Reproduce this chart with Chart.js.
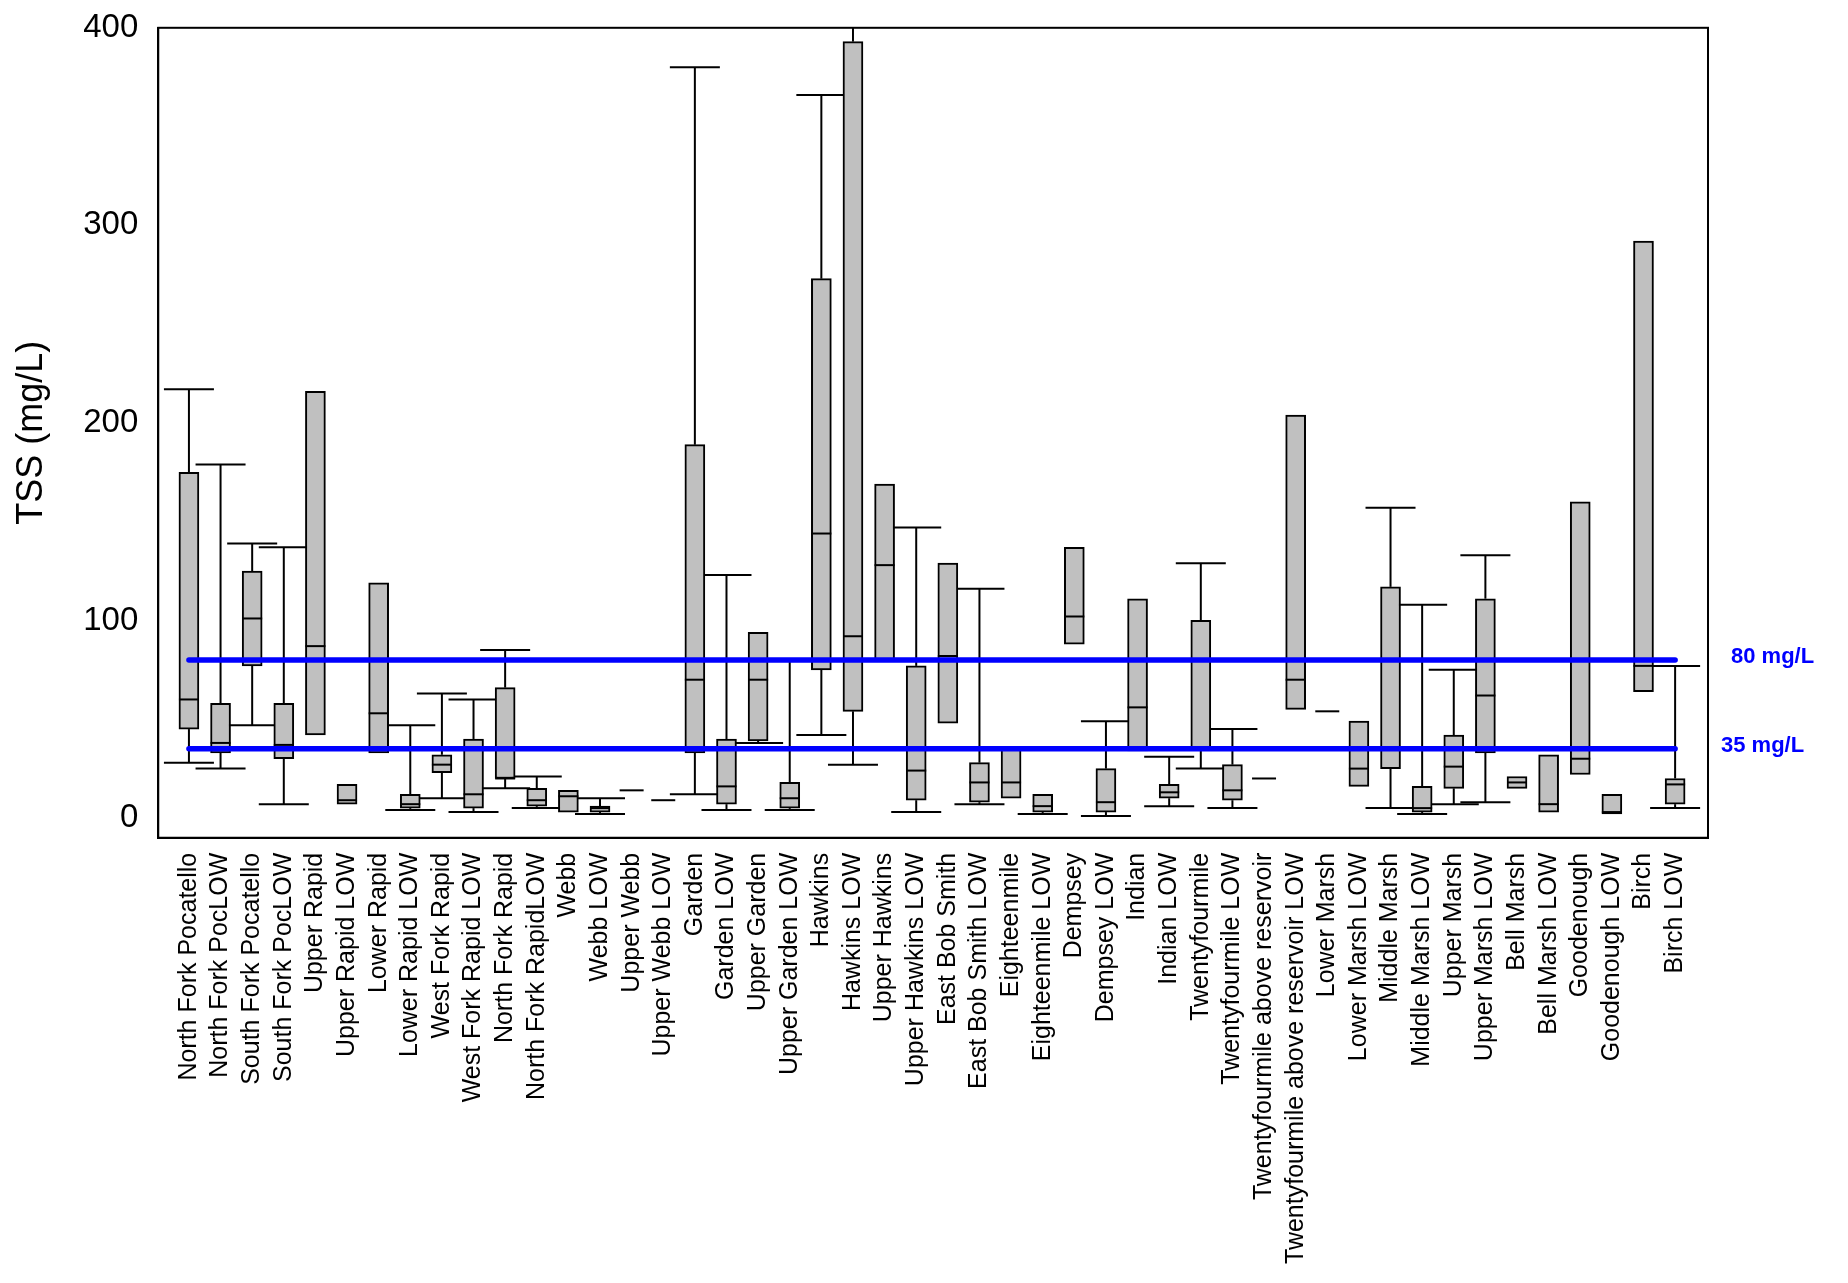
<!DOCTYPE html>
<html><head><meta charset="utf-8">
<script src="https://cdn.jsdelivr.net/npm/chart.js@4"></script>
<style>html,body{margin:0;padding:0;background:#fff}</style>
</head><body>
<canvas id="c" width="1848" height="1283"></canvas>
<script>
const categories = ["North Fork Pocatello","North Fork PocLOW","South Fork Pocatello","South Fork PocLOW","Upper Rapid","Upper Rapid LOW","Lower Rapid","Lower Rapid LOW","West Fork Rapid","West Fork Rapid LOW","North Fork Rapid","North Fork RapidLOW","Webb","Webb LOW","Upper Webb","Upper Webb LOW","Garden","Garden LOW","Upper Garden","Upper Garden LOW","Hawkins","Hawkins LOW","Upper Hawkins","Upper Hawkins LOW","East Bob Smith","East Bob Smith LOW","Eighteenmile","Eighteenmile LOW","Dempsey","Dempsey LOW","Indian","Indian LOW","Twentyfourmile","Twentyfourmile LOW","Twentyfourmile above reservoir","Twentyfourmile above reservoir LOW","Lower Marsh","Lower Marsh LOW","Middle Marsh","Middle Marsh LOW","Upper Marsh","Upper Marsh LOW","Bell Marsh","Bell Marsh LOW","Goodenough","Goodenough LOW","Birch","Birch LOW"];
const mins =    [28,25,47,7,42,7,33,4,10,3,15,5,3,2,14,9,12,4,38,4,42,27,80,3,48,7,10,2,88,1,34,6,25,5,20,55,54,16,5,2,7,8,15,3,22,2,64,5];
const q1s =     [45,33,77,30,42,7,33,5,23,5,20,6,3,3,14,9,33,7,39,5,75,54,80,9,48,8,10,3,88,3,34,10,35,9,20,55,54,16,25,3,15,33,15,3,22,2,64,7];
const medians = [60,38,101,37,87,9,53,7,27,12,20,9,11,5,14,9,70,16,70,10,144,92,128,24,82,18,18,6,102,8,56,13,35,14,20,70,54,25,35,5,26,62,18,7,30,3,77,17];
const q3s =     [175,58,125,58,216,17,119,12,32,40,66,15,14,6,14,9,189,40,94,18,273,393,169,77,129,28,35,12,137,25,111,17,100,27,20,204,54,49,117,16,42,111,21,32,160,12,292,20];
const maxs =    [217,179,139,137,216,17,119,47,63,60,85,21,14,10,14,9,380,123,94,80,366,420,169,147,129,116,35,12,137,49,111,31,129,45,20,204,54,49,157,108,75,133,21,32,160,12,292,77];
const yTicks = [0,100,200,300,400];
const thresholds = [80,35];
const thresholdLabels = ["80 mg/L","35 mg/L"];

const boxData = categories.map((c,i)=>({x:i,y:[q1s[i],q3s[i]]})).filter((d,i)=>q3s[i]>q1s[i]);

const boxPlugin = {
  id:'boxes',
  beforeDatasetsDraw(chart){
    const {ctx, scales:{x,y}} = chart;
    ctx.save();
    ctx.strokeStyle='#000'; ctx.lineWidth=2;
    categories.forEach((c,i)=>{
      const cx=x.getPixelForValue(i);
      const ln=(a,b,c2,d)=>{ctx.beginPath();ctx.moveTo(a,b);ctx.lineTo(c2,d);ctx.stroke();};
      if (maxs[i]>q3s[i]){
        ln(cx,y.getPixelForValue(q3s[i]),cx,y.getPixelForValue(Math.min(maxs[i],400)));
        if(maxs[i]<=400) ln(cx-25,y.getPixelForValue(maxs[i]),cx+25,y.getPixelForValue(maxs[i]));
      }
      if (mins[i]<q1s[i]){
        ln(cx,y.getPixelForValue(q1s[i]),cx,y.getPixelForValue(mins[i]));
        ln(cx-25,y.getPixelForValue(mins[i]),cx+25,y.getPixelForValue(mins[i]));
      }
      if (q3s[i]===q1s[i]){
        ln(cx-12,y.getPixelForValue(q1s[i]),cx+12,y.getPixelForValue(q1s[i]));
      }
    });
    ctx.restore();
  },
  afterDatasetsDraw(chart){
    const {ctx, scales:{x,y}, chartArea:a} = chart;
    ctx.save();
    ctx.strokeStyle='#000'; ctx.lineWidth=2;
    categories.forEach((c,i)=>{
      if(q3s[i]===q1s[i]) return;
      const cx=x.getPixelForValue(i), my=y.getPixelForValue(medians[i]);
      ctx.beginPath();ctx.moveTo(cx-10,my);ctx.lineTo(cx+10,my);ctx.stroke();
    });
    ctx.strokeStyle='#0000ff'; ctx.lineWidth=5.5; ctx.lineCap='round';
    ctx.fillStyle='#0000ff'; ctx.font='bold 22px Arial, "Liberation Sans", sans-serif';
    thresholds.forEach((t,k)=>{
      const ty=y.getPixelForValue(t);
      ctx.beginPath();ctx.moveTo(x.getPixelForValue(0),ty);ctx.lineTo(x.getPixelForValue(categories.length-1),ty);ctx.stroke();
      ctx.textBaseline='middle'; ctx.textAlign='left';
      ctx.fillText(thresholdLabels[k], k===0? a.right+23 : a.right+13, ty-3);
    });
    ctx.strokeStyle='#000'; ctx.lineWidth=2; ctx.lineCap='butt';
    ctx.strokeRect(a.left,a.top,a.right-a.left,a.bottom-a.top);
    ctx.restore();
  }
};

new Chart(document.getElementById('c'),{
  type:'bar',
  data:{datasets:[{data:boxData,backgroundColor:'#c0c0c0',borderColor:'#000',borderWidth:2,borderSkipped:false,barThickness:20}]},
  options:{
    responsive:false,animation:false,
    layout:{padding:{top:3,right:140,left:6,bottom:16}},
    plugins:{legend:{display:false},tooltip:{enabled:false}},
    scales:{
      x:{type:'linear',offset:false,min:-0.97,max:48.04,
        afterBuildTicks(s){s.ticks=categories.map((c,i)=>({value:i}));},
        ticks:{autoSkip:false,maxRotation:90,minRotation:90,color:'#000',
          font:{family:'Arial, "Liberation Sans", sans-serif',size:25},
          callback:(v)=>categories[v]},
        grid:{display:false,offset:false,drawOnChartArea:false,drawTicks:true,tickLength:12,tickColor:'#000',tickWidth:2},
        border:{display:true,color:'#000',width:2}},
      y:{min:-10,max:400,
        afterBuildTicks(s){s.ticks=yTicks.map(v=>({value:v}));},
        ticks:{color:'#000',font:{family:'Arial, "Liberation Sans", sans-serif',size:33},padding:8},
        grid:{display:false,drawOnChartArea:false,drawTicks:true,tickLength:12,tickColor:'#000',tickWidth:2},
        border:{display:true,color:'#000',width:2},
        title:{display:true,text:'TSS (mg/L)',color:'#000',font:{family:'Arial, "Liberation Sans", sans-serif',size:36},padding:{bottom:22}}}
    }
  },
  plugins:[boxPlugin]
});
</script>
</body></html>
